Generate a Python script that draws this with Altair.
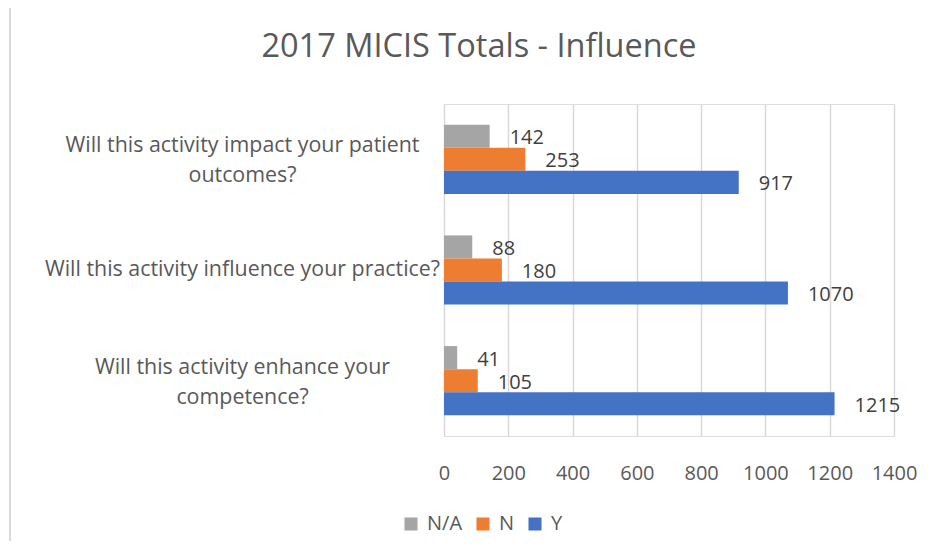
import altair as alt
import pandas as pd

questions = [
    "Will this activity impact your patient|outcomes?",
    "Will this activity influence your practice?",
    "Will this activity enhance your|competence?",
]
series = ["N/A", "N", "Y"]
values_na = [142, 88, 41]
values_n = [253, 180, 105]
values_y = [917, 1070, 1215]
colors = ["#A5A5A5", "#ED7D31", "#4472C4"]
x_ticks = [0, 200, 400, 600, 800, 1000, 1200, 1400]

rows = []
for i, q in enumerate(questions):
    for s, vals in zip(series, [values_na, values_n, values_y]):
        rows.append({"question": q, "series": s, "value": vals[i]})
df = pd.DataFrame(rows)

FONT = "Open Sans"
TXT = "#595959"

y_enc = alt.Y(
    "question:N",
    sort=questions,
    scale=alt.Scale(paddingInner=0.375, paddingOuter=0.1875),
    axis=alt.Axis(
        title=None,
        labelExpr="split(datum.label, '|')",
        labelAlign="center",
        labelPadding=202,
        labelOffset={"condition": {"test": "indexof(datum.label, '|') >= 0", "value": -13}, "value": 0},
        labelFontSize=21.4,
        labelFont=FONT,
        labelColor=TXT,
        labelLineHeight=30,
        labelLimit=600,
        ticks=False,
        domain=False,
        grid=False,
    ),
)
x_enc = alt.X(
    "value:Q",
    scale=alt.Scale(domain=[0, 1400], nice=False),
    axis=alt.Axis(
        title=None,
        values=x_ticks,
        format="d",
        labelOverlap=False,
        labelFlush=False,
        labelFontSize=20,
        labelFont=FONT,
        labelColor=TXT,
        labelPadding=27,
        ticks=False,
        domain=False,
        gridColor="#D9D9D9",
        gridWidth=1.5,
    ),
)
yoff = alt.YOffset("series:N", sort=series, scale=alt.Scale(paddingInner=0, paddingOuter=0))

bars = alt.Chart(df).mark_bar().encode(
    y=y_enc,
    x=x_enc,
    yOffset=yoff,
    color=alt.Color(
        "series:N",
        sort=series,
        scale=alt.Scale(domain=series, range=colors),
        legend=alt.Legend(
            title=None,
            orient="none",
            legendX=-43,
            legendY=410,
            direction="horizontal",
            symbolType="square",
            symbolSize=170,
            symbolStrokeWidth=0,
            labelFontSize=20,
            labelFont=FONT,
            labelColor=TXT,
            labelOffset=6,
            columnPadding=10,
            padding=0,
        ),
    ),
)

labels = alt.Chart(df).mark_text(
    align="left", baseline="middle", dx=20, dy=2, fontSize=20, font=FONT, color="#404040"
).encode(
    y=alt.Y("question:N", sort=questions),
    x="value:Q",
    yOffset=alt.YOffset("series:N", sort=series),
    text="value:Q",
)

frame = alt.Chart(df).mark_rect(
    fill=None, stroke="#D9D9D9", strokeWidth=1.5
).encode(
    x=alt.value(-434),
    x2=alt.value(600),
    y=alt.value(-97),
    y2=alt.value(600),
)

chart = (
    alt.layer(frame, bars, labels)
    .properties(
        width=450,
        height=332,
        autosize=alt.AutoSizeParams(type="none"),
        padding={"left": 436, "top": 96, "right": 30, "bottom": 105},
        title=alt.TitleParams(
            "2017 MICIS Totals - Influence",
            fontSize=32.5,
            font=FONT,
            fontWeight="normal",
            color=TXT,
            anchor="middle",
            frame="group",
            dx=-190,
            offset=-57,
        ),
    )
    .configure_view(stroke=None)
    .configure(background="white")
)

chart.save("out.html", embed_options={"renderer": "svg", "actions": False})
